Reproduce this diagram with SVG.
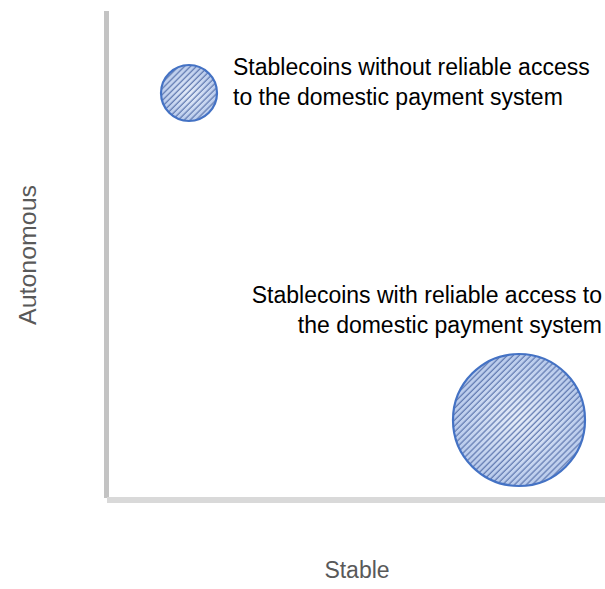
<svg xmlns="http://www.w3.org/2000/svg" width="605" height="589" viewBox="0 0 605 589">
<style>
.lbl{font-family:"Liberation Sans",Arial,sans-serif;font-size:23px;fill:#000}
.ax{font-family:"Liberation Sans",Arial,sans-serif;font-size:23px;fill:#595959}
.bg{fill:url(#grad)}
.bub{fill:url(#hatch);stroke:#4472c4;stroke-width:2.2}
</style>
<defs>
<radialGradient id="grad" cx="50%" cy="50%" r="50%">
<stop offset="0" stop-color="#e6edf9"/>
<stop offset="1" stop-color="#b9cbec"/>
</radialGradient>
<pattern id="hatch" patternUnits="userSpaceOnUse" width="4.2" height="4.2" patternTransform="rotate(45)">
<line x1="1" y1="0" x2="1" y2="4.2" stroke="#5d76ae" stroke-width="1.2"/>
</pattern>
</defs>
<g id="axes">
<rect x="104" y="11" width="5" height="487" fill="#c3c3c3"/>
<rect x="107" y="497" width="498" height="6" fill="#d9d9d9"/>
</g>
<g id="axis-labels">
<text class="ax" transform="translate(36,255) rotate(-90)" x="-70" textLength="140" lengthAdjust="spacingAndGlyphs">Autonomous</text>
<text class="ax" x="357" y="578" text-anchor="middle">Stable</text>
</g>
<g id="node-small">
<circle class="bg" cx="189" cy="93" r="28"/>
<circle class="bub" cx="189" cy="93" r="28"/>
<text class="lbl" x="233" y="75">Stablecoins without reliable access</text>
<text class="lbl" x="233" y="105">to the domestic payment system</text>
</g>
<g id="node-large">
<circle class="bg" cx="519" cy="420" r="66"/>
<circle class="bub" cx="519" cy="420" r="66"/>
<text class="lbl" x="602" y="303" text-anchor="end">Stablecoins with reliable access to</text>
<text class="lbl" x="602" y="333" text-anchor="end">the domestic payment system</text>
</g>
<g id="connectors"/>
</svg>
